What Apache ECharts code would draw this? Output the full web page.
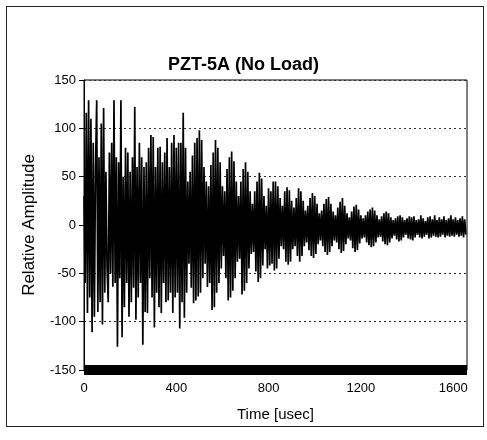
<!DOCTYPE html>
<html>
<head>
<meta charset="utf-8">
<script src="https://cdn.jsdelivr.net/npm/echarts@6/dist/echarts.min.js"></script>
<style>
  html, body { margin: 0; padding: 0; background: #fff; }
  #chart { width: 487px; height: 440px; position: absolute; left: 0; top: 0; }
  #frame { position: absolute; left: 6px; top: 6px; width: 478px; height: 421px; border: 1.5px solid #222; box-sizing: border-box; pointer-events: none; }
</style>
</head>
<body>
<div id="chart"></div>
<div id="frame"></div>
<script>
// ---- Data ----
const titleText = "PZT-5A (No Load)";
const xAxisName = "Time [usec]";
const yAxisName = "Relative Amplitude";
const xTickLabels = [0, 400, 800, 1200, 1600];
const yTickLabels = [-150, -100, -50, 0, 50, 100, 150];
const sampleStep = 5; // usec between samples

// amplitude samples, t = 0 ... 445 usec
const ampEarly = [
  30, -60, 116, -91, 129, -75, 110, -111, 85, -95,
  60, 129, -90, 70, -80, 105, -103, 121, -70, 55,
  -45, -80, 75, -50, 85, -64, 129, -60, 70, -126,
  65, -55, 129, -116, 50, -85, 80, -60, 75, -95,
  55, -80, 70, -65, 122, -98, 60, -75, 85, -60,
  70, -124, 60, -90, 65, -91, 80, -55, 93, -75,
  91, -106, 60, -70, 80, -85, 81, -91, 65, -60,
  75, -80, 90, -78, 60, -70, 85, -91, 93, -75,
  80, -70, 85, -107, 85, -80, 116, -96, 80, -70
];
// t = 450 ... 995 usec
const ampMid = [
  45, -40, 55, -65, 72, -81, 85, -78, 90, -74,
  98, -70, 88, -55, 60, -40, 45, -64, 40, -60,
  62, -88, 75, -85, 88, -70, 80, -60, 65, -45,
  40, -32, 35, -55, 58, -78, 70, -75, 76, -68,
  66, -55, 45, -38, 30, -35, 45, -72, 58, -68,
  65, -60, 55, -45, 35, -30, 22, -28, 35, -48,
  45, -59, 54, -55, 48, -42, 30, -25, 20, -45,
  38, -42, 35, -40, 45, -47, 45, -45, 40, -35,
  28, -22, 20, -25, 35, -38, 39, -41, 36, -38,
  25, -25, 18, -22, 28, -32, 38, -38, 35, -32,
  25, -22, 15, -18, 20, -26, 28, -32, 33, -34
];
// t = 1000 ... 1655 usec
const ampLate = [
  30, -30, 22, -20, 12, -16, 15, -22, 22, -28,
  27, -31, 29, -28, 22, -22, 14, -16, 10, -18,
  18, -25, 24, -29, 28, -27, 20, -20, 12, -14,
  8, -16, 14, -24, 19, -28, 21, -26, 16, -19,
  10, -14, 7, -13, 10, -18, 14, -21, 16, -23,
  18, -22, 15, -18, 10, -13, 6, -12, 9, -17,
  12, -20, 14, -21, 12, -18, 8, -14, 5, -11,
  7, -15, 9, -17, 10, -16, 8, -13, 5, -10,
  7, -14, 9, -15, 8, -16, 9, -13, 5, -10,
  6, -13, 10, -14, 7, -12, 4, -10, 8, -14,
  9, -13, 6, -11, 10, -12, 5, -13, 8, -12,
  6, -10, 9, -13, 5, -11, 7, -12, 10, -11,
  6, -12, 8, -10, 5, -12, 7, -11, 9, -13,
  6, -10
];

const allAmp = ampEarly.concat(ampMid, ampLate);
const waveData = allAmp.map((v, i) => [i * sampleStep, v]);

const chart = echarts.init(document.getElementById('chart'), null, { renderer: 'canvas' });
const font = 'Liberation Sans, Arial, sans-serif';

chart.setOption({
  animation: false,
  backgroundColor: '#fff',
  title: {
    text: titleText,
    left: 'center',
    top: 51,
    textStyle: { fontFamily: font, fontSize: 18, fontWeight: 'bold', color: '#000' }
  },
  grid: {
    left: 84, right: 20, top: 80, bottom: 70,
    show: true, borderColor: '#000', borderWidth: 1, backgroundColor: 'transparent'
  },
  xAxis: {
    type: 'value',
    min: 0, max: 1660, interval: 400,
    name: xAxisName,
    nameLocation: 'middle',
    nameGap: 37,
    nameTextStyle: { fontFamily: font, fontSize: 15, color: '#000' },
    axisLine: { onZero: false, lineStyle: { color: '#000', width: 10, cap: 'butt' } },
    axisTick: { show: false },
    axisLabel: {
      margin: 12, fontFamily: font, fontSize: 13, color: '#000',
      formatter: v => (xTickLabels.indexOf(v) >= 0 ? String(v) : '')
    },
    splitLine: { show: false }
  },
  yAxis: {
    type: 'value',
    min: -150, max: 150, interval: 50,
    name: yAxisName,
    nameLocation: 'middle',
    nameGap: 46,
    nameTextStyle: { fontFamily: font, fontSize: 17, color: '#000' },
    axisLine: { show: true, lineStyle: { color: '#000', width: 1 } },
    axisTick: { show: true, inside: false, length: 5, lineStyle: { color: '#000' } },
    axisLabel: {
      margin: 8, fontFamily: font, fontSize: 13, color: '#000',
      formatter: v => (yTickLabels.indexOf(v) >= 0 ? String(v) : '')
    },
    splitLine: {
      show: true,
      lineStyle: { color: '#333', type: [2, 3], width: 1 }
    }
  },
  series: [{
    type: 'line',
    data: waveData,
    showSymbol: false,
    symbol: 'none',
    sampling: null,
    lineStyle: { color: '#000', width: 1.7 },
    z: 3
  }]
});
</script>
</body>
</html>
